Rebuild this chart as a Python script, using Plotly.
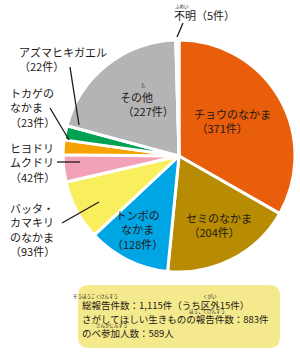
import plotly.graph_objects as go

W, H = 300, 353

categories = ["チョウのなかま", "セミのなかま", "トンボのなかま", "バッタ・カマキリのなかま",
              "ヒヨドリムクドリ", "トカゲのなかま", "アズマヒキガエル", "その他", "不明"]
counts = [371, 204, 128, 93, 42, 23, 22, 227, 5]
label_lines = [["チョウのなかま"], ["セミのなかま"], ["トンボの", "なかま"],
               ["バッタ・", "カマキリ", "のなかま"], ["ヒヨドリ", "ムクドリ"],
               ["トカゲの", "なかま"], ["アズマヒキガエル"], ["その他"], ["不明"]]
colors = ["#E95E0B", "#B78C02", "#00A5E4", "#F9EF5E", "#F2A1B6",
          "#F5A300", "#00A152", "#B4B4B4", "#E6E6E6"]

summary_lines = ["総報告件数：1,115件（うち区外15件）",
                 "さがしてほしい生きものの報告件数：883件",
                 "のべ参加人数：589人"]

TXT = "#231815"
FONT = "Noto Sans CJK JP"


def px(x):
    return x / W


def py(y):
    return 1 - y / H


cx, cy, r = 179, 156, 116

fig = go.Figure(go.Pie(
    labels=categories, values=counts, sort=False, direction="clockwise", rotation=0,
    marker=dict(colors=colors, line=dict(color="white", width=3)),
    textinfo="none", hoverinfo="label+value", showlegend=False,
    domain=dict(x=[px(cx - r), px(cx + r)], y=[py(cy + r), py(cy - r)]),
))

# label placement (pixel positions), anchor, leader line
label_pos = [
    (192, 121, "left", None),
    (184, 225, "left", None),
    (137, 230, "center", None),
    (8, 229, "left", ((62, 223), (99, 202))),
    (8, 162, "left", ((57, 162), (80, 162))),
    (8, 107, "left", ((50, 108), (69, 140))),
    (17, 59, "left", ((70, 67), (79, 125))),
    (118, 104, "left", None),
    (172, 15, "left", ((183, 23), (177, 37))),
]

annotations = []
shapes = []
for name_lines, n, (x, y, anc, line) in zip(label_lines, counts, label_pos):
    if name_lines == ["不明"]:
        text = "不明（%d件）" % n
    elif anc == "left" and len(name_lines) == 1 and name_lines[0] != "アズマヒキガエル":
        text = "<br>".join(name_lines) + "<br> （%d件）" % n
    else:
        text = "<br>".join(name_lines) + "<br>（%d件）" % n
    annotations.append(dict(x=px(x), y=py(y), xref="paper", yref="paper", text=text,
                            showarrow=False, xanchor=anc, yanchor="middle", align=anc,
                            font=dict(family=FONT, size=11, color=TXT)))
    if line:
        (x0, y0), (x1, y1) = line
        shapes.append(dict(type="line", xref="paper", yref="paper",
                           x0=px(x0), y0=py(y0), x1=px(x1), y1=py(y1),
                           line=dict(color=TXT, width=1.3)))

# furigana
ruby = [("た", 143, 86), ("ふめい", 182, 6),
        ("そうほうこくけんすう", 95, 296), ("くがい", 210, 296),
        ("ほうこくけんすう", 207, 311), ("さんかにんずう", 112, 325)]
for t, x, y in ruby:
    annotations.append(dict(x=px(x), y=py(y), xref="paper", yref="paper", text=t,
                            showarrow=False, xanchor="center", yanchor="middle",
                            font=dict(family=FONT, size=4.5, color=TXT)))

# summary box
bx0, by0, bx1, by1, rr = 78, 285, 280, 348, 11
path = (f"M {px(bx0+rr)} {py(by0)} L {px(bx1-rr)} {py(by0)} "
        f"Q {px(bx1)} {py(by0)} {px(bx1)} {py(by0+rr)} L {px(bx1)} {py(by1-rr)} "
        f"Q {px(bx1)} {py(by1)} {px(bx1-rr)} {py(by1)} L {px(bx0+rr)} {py(by1)} "
        f"Q {px(bx0)} {py(by1)} {px(bx0)} {py(by1-rr)} L {px(bx0)} {py(by0+rr)} "
        f"Q {px(bx0)} {py(by0)} {px(bx0+rr)} {py(by0)} Z")
shapes.append(dict(type="path", path=path, xref="paper", yref="paper",
                   fillcolor="#F4E98C", line=dict(width=0), layer="below"))

for i, t in enumerate(summary_lines):
    annotations.append(dict(x=px(80), y=py(305 + 14 * i), xref="paper", yref="paper",
                            text=t, showarrow=False, xanchor="left", yanchor="middle",
                            font=dict(family=FONT, size=9.5, color=TXT)))

fig.update_layout(width=W, height=H, margin=dict(l=0, r=0, t=0, b=0),
                  paper_bgcolor="white", plot_bgcolor="white",
                  annotations=annotations, shapes=shapes)

fig.write_html("out.html")
